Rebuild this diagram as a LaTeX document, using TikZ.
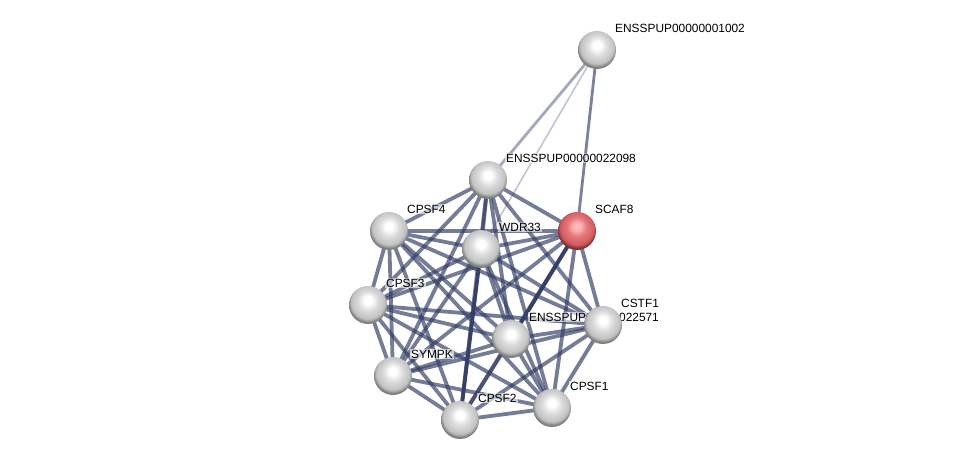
\documentclass[tikz,border=0pt]{standalone}
\usepackage{fontspec}
\setmainfont{Liberation Sans}
\usetikzlibrary{positioning, calc}
\definecolor{linkblue}{RGB}{52, 62, 102}
\definecolor{hitred}{RGB}{222, 96, 100}
\pgfdeclareradialshading{protsphere}{\pgfqpoint{0bp}{7bp}}{color(0bp)=(white); color(5bp)=(white);
  color(13bp)=(black!14); color(22bp)=(black!24); color(26bp)=(black!50); color(50bp)=(black!50)}
\pgfdeclareradialshading{hitsphere}{\pgfqpoint{0bp}{7bp}}{color(0bp)=(red!25!white); color(5bp)=(red!30!white);
  color(13bp)=(hitred!85!white); color(22bp)=(hitred!95!black); color(26bp)=(hitred!55!black); color(50bp)=(hitred!55!black)}

\tikzset{
  protein/.style={circle, minimum size=38pt, inner sep=0pt, shading=protsphere},
  query/.style={protein, shading=hitsphere},
  plabel/.style={font=\fontsize{11.9}{13}\selectfont, anchor=west, inner sep=1pt, fill=white, fill opacity=0.6, text opacity=1},
  link/.style={draw=linkblue, line width=3.8pt, draw opacity=0.68},
  strong/.style={link, draw opacity=0.95},
  weak/.style={draw=linkblue, line width=2.8pt, draw opacity=0.45},
  faint/.style={draw=linkblue, line width=1.6pt, draw opacity=0.3}
}

\begin{document}
\begin{tikzpicture}[x=1pt, y=-1pt]
  \useasboundingbox (0,0) rectangle (975,465);

  % protein positions
  \coordinate (e1002) at (597,50);
  \coordinate (e22098) at (488,180);
  \coordinate (scaf8) at (577,231);
  \coordinate (cpsf4) at (389,231);
  \coordinate (wdr33) at (481,249);
  \coordinate (cpsf3) at (368,305);
  \coordinate (e22571) at (511,339);
  \coordinate (cstf1) at (603,325);
  \coordinate (sympk) at (393,376);
  \coordinate (cpsf2) at (460,420);
  \coordinate (cpsf1) at (552,408);

  % links to the outer protein
  \draw[weak] (e1002) -- (e22098);
  \draw[faint] (e1002) -- (wdr33);
  \draw[weak, draw opacity=0.65] (e1002) -- (scaf8);

  % core cluster, every pair linked
  \foreach \a/\b in {e22098/scaf8, e22098/cpsf4, e22098/wdr33, e22098/cpsf3, e22098/e22571,
      e22098/cstf1, e22098/sympk, e22098/cpsf2, e22098/cpsf1,
      scaf8/cpsf4, scaf8/wdr33, scaf8/cpsf3, scaf8/cstf1, scaf8/sympk, scaf8/cpsf2, scaf8/cpsf1,
      cpsf4/wdr33, cpsf4/cpsf3, cpsf4/e22571, cpsf4/cstf1, cpsf4/sympk, cpsf4/cpsf2, cpsf4/cpsf1,
      wdr33/cpsf3, wdr33/e22571, wdr33/cstf1, wdr33/sympk, wdr33/cpsf1,
      cpsf3/e22571, cpsf3/cstf1, cpsf3/sympk, cpsf3/cpsf2, cpsf3/cpsf1,
      e22571/cstf1, e22571/sympk, e22571/cpsf2, e22571/cpsf1,
      cstf1/sympk, cstf1/cpsf2, cstf1/cpsf1,
      sympk/cpsf2, sympk/cpsf1, cpsf2/cpsf1}
    \draw[link] (\a) -- (\b);
  \draw[strong] (wdr33) -- (cpsf2);
  \draw[strong] (scaf8) -- (e22571);

  % labels
  \node[plabel] (t-e1002) at ($(e1002)+(17,-22)$) {ENSSPUP00000001002};
  \node[plabel] (t-e22098) at ($(e22098)+(17,-22)$) {ENSSPUP00000022098};
  \node[plabel] (t-scaf8) at ($(scaf8)+(17,-22)$) {SCAF8};
  \node[plabel] (t-cpsf4) at ($(cpsf4)+(17,-22)$) {CPSF4};
  \node[plabel] (t-wdr33) at ($(wdr33)+(17,-22)$) {WDR33};
  \node[plabel] (t-cpsf3) at ($(cpsf3)+(17,-22)$) {CPSF3};
  \node[plabel] (t-e22571) at ($(e22571)+(17,-22)$) {ENSSPUP00000022571};
  \node[plabel] (t-cstf1) at ($(cstf1)+(17,-22)$) {CSTF1};
  \node[plabel] (t-sympk) at ($(sympk)+(17,-22)$) {SYMPK};
  \node[plabel] (t-cpsf2) at ($(cpsf2)+(17,-22)$) {CPSF2};
  \node[plabel] (t-cpsf1) at ($(cpsf1)+(17,-22)$) {CPSF1};

  % proteins
  \foreach \p in {e1002, e22098, cpsf4, wdr33, cpsf3, e22571, cstf1, sympk, cpsf2, cpsf1}
    \node[protein] (n-\p) at (\p) {};
  \node[query] (n-scaf8) at (scaf8) {};
\end{tikzpicture}
\end{document}
